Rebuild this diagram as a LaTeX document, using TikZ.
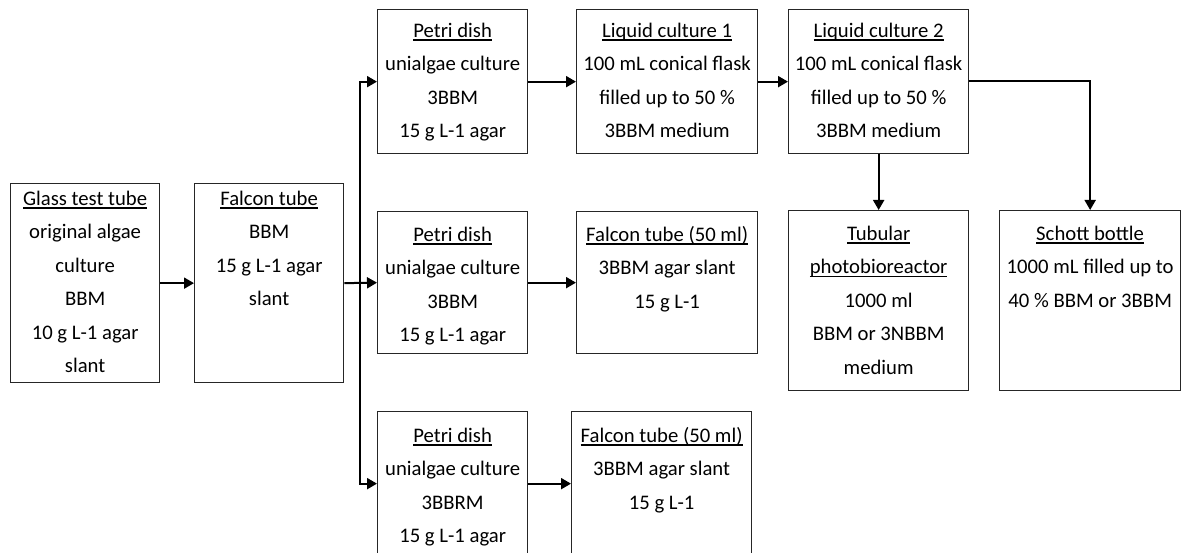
\documentclass[tikz,border=0pt]{standalone}
\usepackage{fontspec}
\setmainfont{Carlito}
\usetikzlibrary{arrows.meta}
\newcommand\myul[1]{\setbox0\hbox{#1}\rlap{\vrule height -2pt depth 3.4pt width \wd0}\box0}
\newcommand\hd[1]{\vrule height 16pt width 0pt\myul{#1}}
\begin{document}
\begin{tikzpicture}[x=1pt,y=-1pt,
  box/.style={draw=black!85, line width=1.3pt, inner sep=0pt, anchor=north west},
  txt/.style={anchor=north, inner sep=0pt, align=center, font=\fontsize{20.7}{33.5}\selectfont},
  arr/.style={line width=2pt, -{Triangle[length=10pt,width=11pt]}}]
\useasboundingbox (0,0) rectangle (1186,553);
\clip (0,0) rectangle (1186,553);
% boxes
\node[box, minimum width=149pt, minimum height=199pt] (b1) at (10,183) {};
\node[box, minimum width=149pt, minimum height=199pt] (b2) at (194,183) {};
\node[box, minimum width=150pt, minimum height=144pt] (p1) at (377,9) {};
\node[box, minimum width=181pt, minimum height=144pt] (lc1) at (576,9) {};
\node[box, minimum width=180pt, minimum height=144pt] (lc2) at (788,9) {};
\node[box, minimum width=150pt, minimum height=142pt] (p2) at (377,211) {};
\node[box, minimum width=181pt, minimum height=142pt] (f2) at (576,211) {};
\node[box, minimum width=150pt, minimum height=144pt] (p3) at (377,411) {};
\node[box, minimum width=180pt, minimum height=144pt] (f3) at (571,411) {};
\node[box, minimum width=180pt, minimum height=180pt] (tub) at (788,210) {};
\node[box, minimum width=181pt, minimum height=180pt] (sch) at (999,210) {};
% texts
\node[txt] (t1) at ([yshift=-6pt]b1.north) {\hd{Glass test tube}\\original algae\\culture\\BBM\\10 g L-1 agar\\slant};
\node[txt] (t2) at ([yshift=-6pt]b2.north) {\hd{Falcon tube}\\BBM\\15 g L-1 agar\\slant};
\node[txt] (tp1) at ([yshift=-12pt]p1.north) {\hd{Petri dish}\\unialgae culture\\3BBM\\15 g L-1 agar};
\node[txt] (tl1) at ([yshift=-12pt]lc1.north) {\hd{Liquid culture 1}\\100 mL conical flask\\filled up to 50 \%\\3BBM medium};
\node[txt] (tl2) at ([yshift=-12pt]lc2.north) {\hd{Liquid culture 2}\\100 mL conical flask\\filled up to 50 \%\\3BBM medium};
\node[txt] (tp2) at ([yshift=-14pt]p2.north) {\hd{Petri dish}\\unialgae culture\\3BBM\\15 g L-1 agar};
\node[txt] (tf2) at ([yshift=-14pt]f2.north) {\hd{Falcon tube (50 ml)}\\3BBM agar slant\\15 g L-1};
\node[txt] (tp3) at ([yshift=-15pt]p3.north) {\hd{Petri dish}\\unialgae culture\\3BBRM\\15 g L-1 agar};
\node[txt] (tf3) at ([yshift=-15pt]f3.north) {\hd{Falcon tube (50 ml)}\\3BBM agar slant\\15 g L-1};
\node[txt] (tt) at ([yshift=-14pt]tub.north) {\hd{Tubular}\\\myul{photobioreactor}\\1000 ml\\BBM or 3NBBM\\medium};
\node[txt] (ts) at ([yshift=-14pt]sch.north) {\hd{Schott bottle}\\1000 mL filled up to\\40 \% BBM or 3BBM};
% connectors
\coordinate (j) at (360,282.5);
\draw[arr] (b1.east) -- (b2.west);
\draw[arr] (b2.east) -- (p2.west);
\draw[arr] (j) |- (p1.west);
\draw[arr] (j) |- (p3.west);
\draw[arr] (p1.east) -- (lc1.west);
\draw[arr] (lc1.east) -- (lc2.west);
\draw[arr] (p2.east) -- (f2.west);
\draw[arr] (p3.east) -- (f3.west);
\draw[arr] (lc2.south) -- (tub.north);
\draw[arr] ([yshift=1pt]lc2.east) -| (sch.north);
\end{tikzpicture}
\end{document}
